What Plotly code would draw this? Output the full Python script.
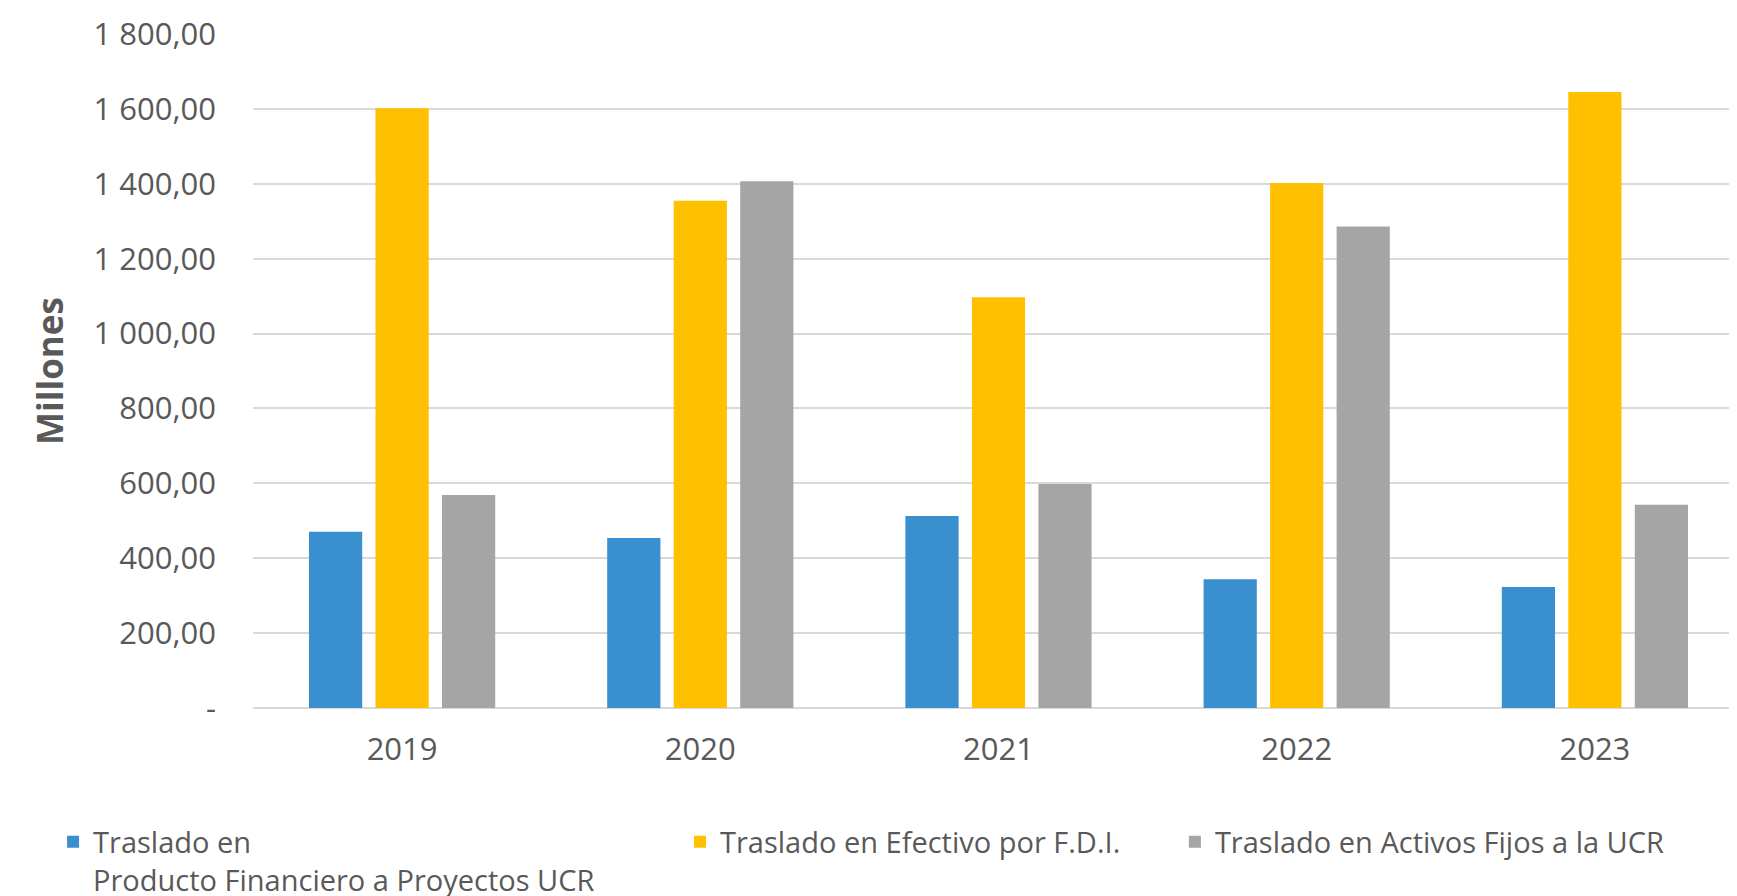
import plotly.graph_objects as go

# ---- data ----
years = ["2019", "2020", "2021", "2022", "2023"]
producto_financiero = [471, 454, 513, 344, 323]
efectivo_fdi = [1602, 1355, 1097, 1402, 1645]
activos_fijos = [569, 1407, 598, 1286, 543]
series_names = [
    "Traslado en<br>Producto Financiero a Proyectos UCR",
    "Traslado en Efectivo por F.D.I.",
    "Traslado en Activos Fijos a la UCR",
]
series_colors = ["#3A8FCE", "#FFC000", "#A5A5A5"]
y_tick_values = [0, 200, 400, 600, 800, 1000, 1200, 1400, 1600, 1800]
y_tick_labels = ["-", "200,00", "400,00", "600,00", "800,00", "1 000,00",
                 "1 200,00", "1 400,00", "1 600,00", "1 800,00"]
y_title = "Millones"

FONT = "Open Sans"
TXT = "#595959"

legend_ids = ["legend", "legend2", "legend3"]
legend_x = [-0.1341, 0.2864, 0.6183]

fig = go.Figure()
for name, vals, col, lid in zip(series_names, [producto_financiero, efectivo_fdi, activos_fijos],
                                series_colors, legend_ids):
    fig.add_trace(go.Bar(x=years, y=vals, name=name, legend=lid,
                         marker=dict(color=col, line=dict(width=0))))

fig.update_layout(
    width=1737, height=896,
    margin=dict(l=245, r=1, t=26, b=196, autoexpand=False),
    paper_bgcolor="white", plot_bgcolor="white",
    barmode="group", bargap=0.331, bargroupgap=0.2,
    font=dict(family=FONT, color=TXT, size=29),
    showlegend=True,
)
for lid, lx in zip(legend_ids, legend_x):
    fig.update_layout({lid: dict(
        orientation="h", x=lx, y=-0.1608, xanchor="left", yanchor="top",
        valign="top", font=dict(family=FONT, size=29, color=TXT),
        itemwidth=30, bgcolor="rgba(0,0,0,0)",
    )})

fig.update_xaxes(
    type="category", showgrid=False, showline=False, zeroline=False, automargin=False,
    tickfont=dict(family=FONT, size=31, color=TXT), ticks="", ticklabelstandoff=20,
)
fig.update_yaxes(
    range=[0, 1800], tickvals=y_tick_values, ticktext=y_tick_labels,
    showgrid=True, gridcolor="#D9D9D9", gridwidth=2,
    zeroline=True, zerolinecolor="#D9D9D9", zerolinewidth=2,
    showline=False, ticks="", ticklabelstandoff=36, automargin=False,
    tickfont=dict(family=FONT, size=31, color=TXT),
    title=dict(text="<b>" + y_title + "</b>", font=dict(family=FONT, size=35, color=TXT), standoff=19),
)

fig.write_html("out.html")
